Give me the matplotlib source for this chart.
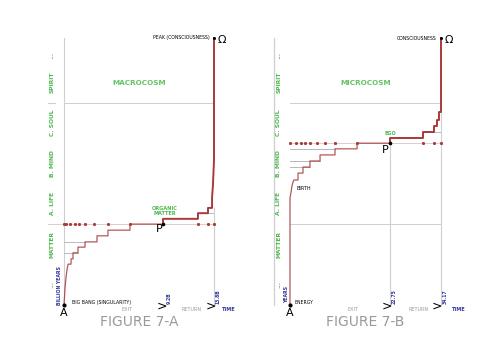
import matplotlib
matplotlib.use("Agg")
import matplotlib.pyplot as plt

# ---------------- data ----------------
levels = ["...", "SPIRIT", "C. SOUL", "B. MIND", "A. LIFE", "MATTER", "..."]
level_centers = [6.18, 5.5, 4.5, 3.5, 2.5, 1.5, 0.5]

# left panel (macrocosm): time fraction vs level
macro_x = [0, .007, .013, .02, .027, .027, .047, .047, .06, .06, .093, .093, .14, .14,
           .22, .22, .293, .293, .44, .44, .66]
macro_y = [0, .42, .67, .87, 1.01, 1.01, 1.01, 1.14, 1.14, 1.29, 1.29, 1.43, 1.43, 1.56,
           1.56, 1.71, 1.71, 1.85, 1.85, 2.0, 2.0]
macro_up_x = [.66, .66, .893, .893, .96, .96, .987, .987, .993, 1.0, 1.0]
macro_up_y = [2.0, 2.13, 2.13, 2.27, 2.27, 2.40, 2.40, 2.65, 2.97, 3.58, 6.6]
macro_guides = [1.56, 1.29]
macro_guide_end = [.14, .093]

# right panel (microcosm)
micro_x = [0, 0, .007, .013, .02, .026, .053, .053, .086, .086, .132, .132, .199, .199,
           .298, .298, .444, .444, .662]
micro_y = [0, 2.65, 2.79, 2.94, 3.04, 3.09, 3.09, 3.26, 3.26, 3.41, 3.41, 3.56, 3.56, 3.71,
           3.71, 3.86, 3.86, 4.0, 4.0]
micro_up_x = [.662, .662, .881, .881, .954, .954, .974, .974, .987, .987, 1.0, 1.0]
micro_up_y = [4.0, 4.13, 4.13, 4.28, 4.28, 4.43, 4.43, 4.57, 4.57, 4.77, 4.77, 6.6]
micro_guides = [3.86, 3.56, 3.41]
micro_guide_end = [.298, .199, .132]

RED = "#a83a3a"
GRAY = "#cfcfcf"
GREEN = "#4cb84c"
BLUE = "#34349c"
TXTGRAY = "#9a9a9a"

W, H = 500, 352
fig = plt.figure(figsize=(W / 100, H / 100), dpi=100)


def make_ax(px0, px1):
    ax = fig.add_axes([px0 / W, 1 - 305 / H, (px1 - px0) / W, (305 - 38) / H])
    ax.set_xlim(0, 1)
    ax.set_ylim(0, 6.6)
    ax.axis("off")
    return ax


def common(ax, label_x, title, centre_name, peak_name, sx, sy, ux, uy,
           guides, guide_end, tick_y, stairs_xs):
    kw = dict(clip_on=False)
    for lab, c in zip(levels, level_centers):
        ax.text(label_x, c, lab, rotation=90, ha="center", va="center",
                color=GREEN, fontsize=4.3, fontweight="bold", **kw)
    ax.text(0.5, 5.49, centre_name, ha="center", va="center", color=GREEN,
            fontsize=5.2, fontweight="bold", alpha=0.85, **kw)
    ax.plot([0, 1], [5, 5], color=GRAY, lw=0.7, **kw)
    for g, e in zip(guides, guide_end):
        ax.plot([0, e], [g, g], color="#b8b8b8", lw=0.7, **kw)
    ax.plot([0, 1], [tick_y, tick_y], color="#dccccc", lw=0.7, **kw)
    ax.plot(stairs_xs, [tick_y] * len(stairs_xs), ls="none", marker="s",
            ms=1.1, color=RED, **kw)
    ax.plot(sx, sy, color=RED, lw=0.9, alpha=0.85, **kw)
    ax.plot(ux, uy, color=RED, lw=1.4, **kw)
    ax.plot([0], [0], marker="o", ms=2, color="black", **kw)
    ax.plot([1], [6.6], marker="o", ms=1.2, color="black", **kw)
    ax.text(0.0, -0.2, "A", ha="center", va="center", fontsize=8, **kw)
    ax.text(1.027, 6.55, "Ω", ha="left", va="center", fontsize=8, **kw)
    ax.text(0.97, 6.6, peak_name, ha="right", va="center", fontsize=3.3, **kw)
    ax.text(0.5, -0.42, title, ha="center", va="center", fontsize=10,
            color=TXTGRAY, **kw)


# ---------- left panel ----------
axL = make_ax(64, 214)
axL.plot([0, 0], [0, 6.6], color=GRAY, lw=0.8, clip_on=False)
axL.plot([1, 1], [0, 2.4], color=GRAY, lw=0.8, clip_on=False)
axL.plot([-0.107, -0.06], [5, 5], color=GRAY, lw=0.8, clip_on=False)
axL.plot([-0.107, 0], [2.0, 2.0], color="#dccccc", lw=0.7, clip_on=False)
axL.plot([.96, 1], [2.27, 2.27], color="#b8b8b8", lw=0.7)
common(axL, -0.08, "FIGURE 7-A", "MACROCOSM", "PEAK (CONSCIOUSNESS)",
       macro_x, macro_y, macro_up_x, macro_up_y, macro_guides, macro_guide_end,
       2.0, [0, .013, .04, .07, .1, .14, .2, .293, .44, .893, .96, 1.0])
axL.text(0.673, 2.32, "ORGANIC\nMATTER", ha="center", va="center", color=GREEN,
         fontsize=3.6, fontweight="bold", linespacing=1.1, clip_on=False)
axL.text(0.633, 1.88, "P", ha="center", va="center", fontsize=8, clip_on=False)
axL.plot([0.66], [2.0], marker="o", ms=1.6, color="black", clip_on=False)
axL.text(-0.027, 0.49, "BILLION YEARS", rotation=90, ha="center", va="center",
         color=BLUE, fontsize=3.3, fontweight="bold", clip_on=False)
axL.text(0.053, 0.05, "BIG BANG (SINGULARITY)", ha="left", va="center",
         fontsize=3.3, clip_on=False)
axL.text(0.42, -0.1, "EXIT", ha="center", va="center", fontsize=3.5,
         color=TXTGRAY, clip_on=False)
axL.text(0.853, -0.1, "RETURN", ha="center", va="center", fontsize=3.5,
         color=TXTGRAY, clip_on=False)
axL.text(0.653, -0.03, ">", ha="center", va="center", fontsize=9, clip_on=False)
axL.text(0.98, -0.03, ">", ha="center", va="center", fontsize=9, clip_on=False)
axL.text(0.70, 0.02, "9.2B", rotation=90, ha="center", va="bottom", color=BLUE,
         fontsize=3.3, fontweight="bold", clip_on=False)
axL.text(1.027, 0.02, "13.8B", rotation=90, ha="center", va="bottom", color=BLUE,
         fontsize=3.3, fontweight="bold", clip_on=False)
axL.text(1.1, -0.1, "TIME", ha="center", va="center", color=BLUE,
         fontsize=3.6, fontweight="bold", clip_on=False)

# ---------- right panel ----------
axR = make_ax(290, 441)
axR.plot([-0.106, -0.106], [0, 6.6], color=GRAY, lw=0.9, clip_on=False)
axR.plot([0.662, 0.662], [0, 4.0], color=GRAY, lw=0.8, clip_on=False)
axR.plot([1, 1], [0, 4.77], color=GRAY, lw=0.8, clip_on=False)
axR.plot([0, 1], [2.0, 2.0], color=GRAY, lw=0.7, clip_on=False)
axR.plot([.881, 1], [4.28, 4.28], color="#b8b8b8", lw=0.7)
common(axR, -0.073, "FIGURE 7-B", "MICROCOSM", "CONSCIOUSNESS",
       micro_x, micro_y, micro_up_x, micro_up_y, micro_guides, micro_guide_end,
       4.0, [0, .04, .07, .1, .13, .18, .23, .298, .444, .662, .881, .954, 1.0])
axR.text(0.662, 4.23, "EGO", ha="center", va="center", color=GREEN,
         fontsize=3.6, fontweight="bold", clip_on=False)
axR.text(0.629, 3.83, "P", ha="center", va="center", fontsize=8, clip_on=False)
axR.plot([0.662], [4.0], marker="o", ms=1.6, color="black", clip_on=False)
axR.text(0.046, 2.89, "BIRTH", ha="left", va="center", fontsize=3.5, clip_on=False)
axR.text(-0.02, 0.25, "YEARS", rotation=90, ha="center", va="center",
         color=BLUE, fontsize=3.3, fontweight="bold", clip_on=False)
axR.text(0.033, 0.05, "ENERGY", ha="left", va="center", fontsize=3.3, clip_on=False)
axR.text(0.417, -0.1, "EXIT", ha="center", va="center", fontsize=3.5,
         color=TXTGRAY, clip_on=False)
axR.text(0.854, -0.1, "RETURN", ha="center", va="center", fontsize=3.5,
         color=TXTGRAY, clip_on=False)
axR.text(0.642, -0.03, ">", ha="center", va="center", fontsize=9, clip_on=False)
axR.text(0.974, -0.03, ">", ha="center", va="center", fontsize=9, clip_on=False)
axR.text(0.689, 0.02, "22.75", rotation=90, ha="center", va="bottom", color=BLUE,
         fontsize=3.3, fontweight="bold", clip_on=False)
axR.text(1.026, 0.02, "34.17", rotation=90, ha="center", va="bottom", color=BLUE,
         fontsize=3.3, fontweight="bold", clip_on=False)
axR.text(1.12, -0.1, "TIME", ha="center", va="center", color=BLUE,
         fontsize=3.6, fontweight="bold", clip_on=False)

fig.savefig("out.png", dpi=100, facecolor="white")
